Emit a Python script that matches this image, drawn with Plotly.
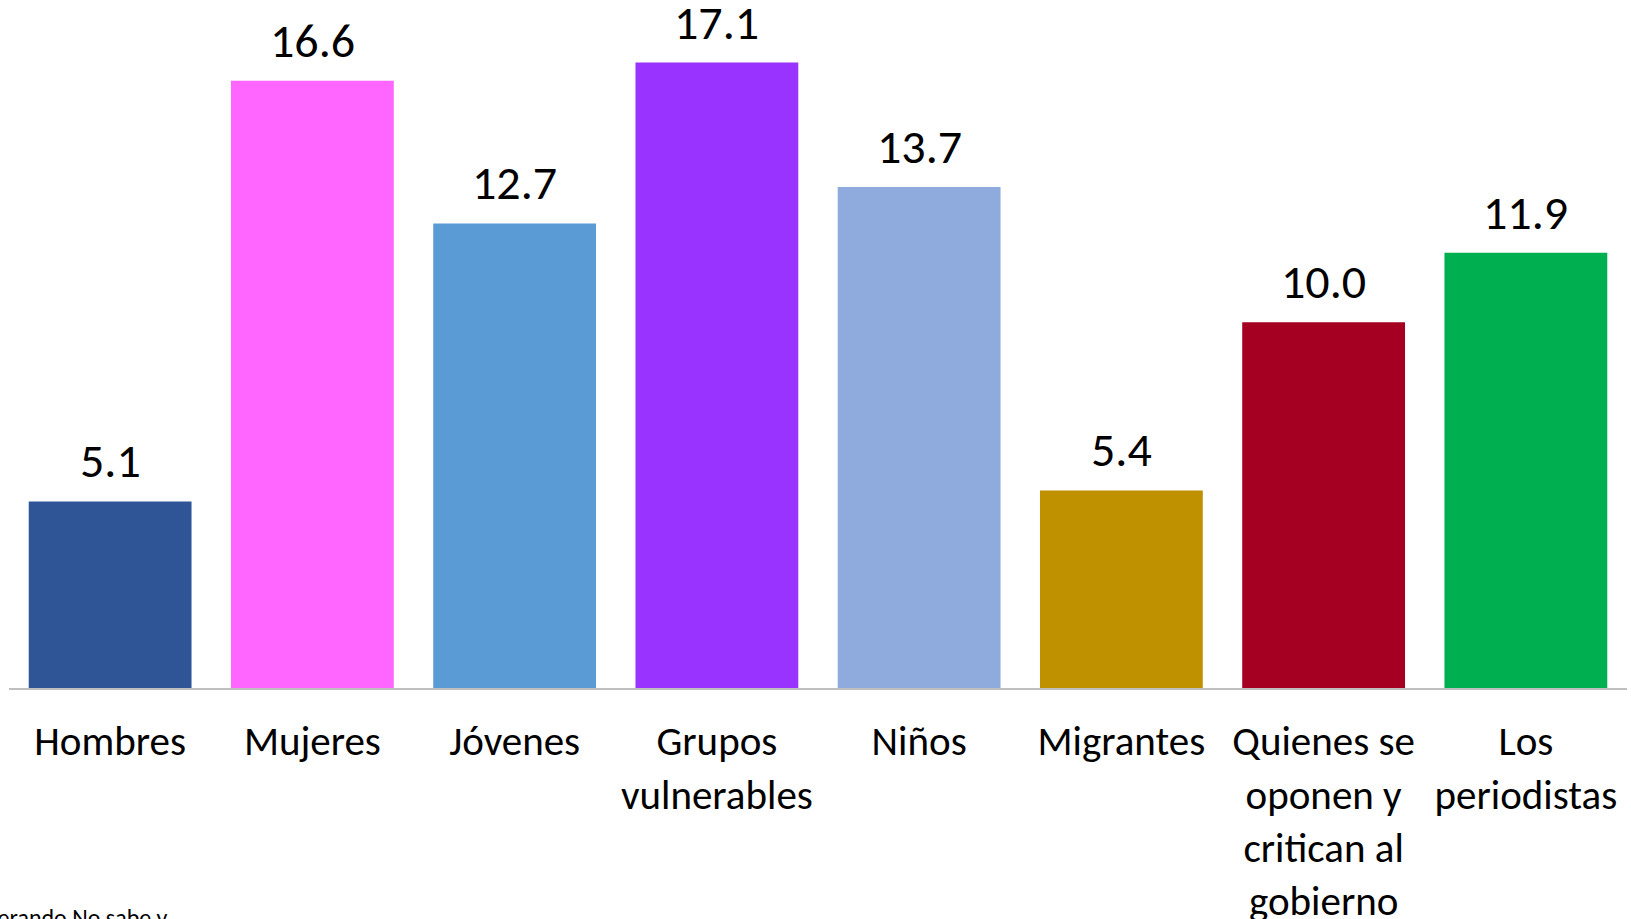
import plotly.graph_objects as go

categories = ["Hombres", "Mujeres", "Jóvenes", "Grupos<br>vulnerables", "Niños",
              "Migrantes", "Quienes se<br>oponen y<br>critican al<br>gobierno", "Los<br>periodistas"]
values = [5.1, 16.6, 12.7, 17.1, 13.7, 5.4, 10.0, 11.9]
colors = ["#2F5597", "#FF66FF", "#5B9BD5", "#9933FF", "#8FAADC", "#BF9000", "#A50021", "#00B050"]

FONT = "Calibri, Carlito, Lato, sans-serif"

fig = go.Figure(go.Bar(
    x=categories, y=values, marker=dict(color=colors, line=dict(width=0)),
    hoverinfo="skip",
))

for c, v in zip(categories, values):
    fig.add_annotation(x=c, y=v, text=f"{v:.1f}", showarrow=False,
                       yanchor="bottom", yshift=9,
                       font=dict(family=FONT, size=48, color="black"))

fig.add_annotation(xref="paper", yref="paper", x=(170 - 9) / 1618, y=0,
                   xanchor="right", yanchor="top",
                   yshift=-213, text="Considerando No sabe y", showarrow=False,
                   font=dict(family=FONT, size=24, color="black"))

fig.update_layout(
    width=1631, height=919,
    margin=dict(l=9, r=4, t=0, b=231),
    paper_bgcolor="white", plot_bgcolor="white",
    bargap=0.195, showlegend=False,
    font=dict(family=FONT, size=41, color="black"),
)
fig.update_xaxes(showline=True, linecolor="#BFBFBF", linewidth=2, ticks="",
                 tickfont=dict(family=FONT, size=41, color="black"),
                 ticklabelstandoff=16, showgrid=False, automargin=False)
fig.update_yaxes(range=[0, 18.81], visible=False, showgrid=False, automargin=False)

fig.write_html("out.html", config={"displayModeBar": False},
               post_script="document.body.style.margin='0';document.body.style.overflow='hidden';")
